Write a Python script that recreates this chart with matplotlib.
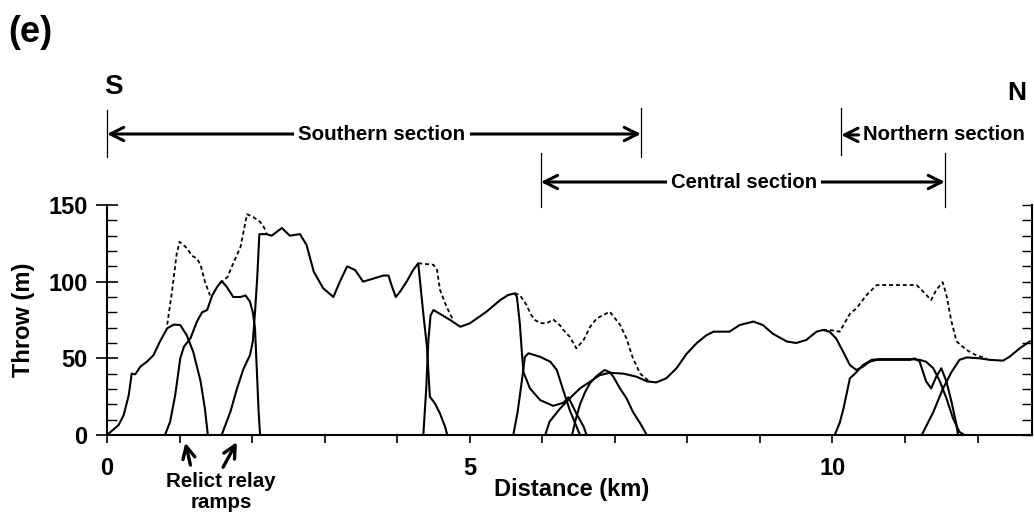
import matplotlib
matplotlib.use("Agg")
import matplotlib.pyplot as plt
from matplotlib.ticker import MultipleLocator

plt.rcParams["font.family"] = ["Liberation Sans", "DejaVu Sans"]
plt.rcParams["font.weight"] = "bold"
plt.rcParams["axes.labelweight"] = "bold"

# Throw profiles of the individual fault segments (km, m)
seg_a_x = [0, 0.16, 0.23, 0.30, 0.34, 0.39, 0.46, 0.55, 0.64, 0.73, 0.83, 0.92, 1.01, 1.10, 1.19, 1.29, 1.35, 1.39]
seg_a_y = [0, 6.5, 13, 26, 40, 39.6, 44.6, 47.8, 52, 61, 69.6, 72, 71.7, 65, 54, 35, 17, 0]

seg_b_x = [0.80, 0.87, 0.94, 1.01, 1.06, 1.15, 1.24, 1.31, 1.38, 1.45, 1.52, 1.58, 1.65, 1.74, 1.84, 1.91, 1.97, 2.01, 2.04, 2.07, 2.09, 2.11]
seg_b_y = [0, 8.7, 26, 50, 57.6, 63, 74, 80, 81.5, 91, 96.7, 100.4, 96.7, 90, 90, 91, 87, 80, 69.6, 37, 15, 0]

seg_c_x = [1.58, 1.70, 1.79, 1.88, 1.97, 2.01, 2.04, 2.07, 2.10, 2.20, 2.27, 2.41, 2.52, 2.66, 2.75, 2.85, 2.98, 3.12,
           3.21, 3.31, 3.42, 3.53, 3.67, 3.81, 3.88, 3.92, 3.98, 4.04, 4.13, 4.22, 4.29, 4.36, 4.41, 4.45, 4.52, 4.59, 4.66, 4.69]
seg_c_y = [0, 15, 30, 43, 52, 61, 80, 102, 131, 131, 130, 135, 130, 131, 124, 106.5, 95.7, 90,
           100, 110, 107.6, 100, 102, 104, 104, 98, 90, 93.5, 100, 107.6, 112, 79, 57.6, 25, 20.6, 14, 5.4, 0]

seg_d_x = [4.36, 4.40, 4.43, 4.46, 4.50, 4.59, 4.73, 4.87, 5.00, 5.23, 5.42, 5.53, 5.62, 5.65, 5.69, 5.72, 5.74, 5.83,
           5.97, 6.15, 6.29, 6.36, 6.47, 6.57, 6.61]
seg_d_y = [0, 30, 62, 78, 81.5, 79, 75, 70.6, 72.8, 80.4, 88, 91.3, 92.4, 90, 72.8, 53, 41, 30.4,
           22.8, 19, 21, 24.6, 14, 5.4, 0]

seg_e_x = [5.60, 5.66, 5.72, 5.76, 5.81, 5.97, 6.11, 6.20, 6.29, 6.38, 6.52]
seg_e_y = [0, 15, 36, 51, 53.3, 51, 47.8, 42.4, 29, 16, 0]

seg_f_x = [6.04, 6.10, 6.24, 6.38, 6.52, 6.66, 6.79, 6.93, 7.12, 7.30, 7.44, 7.57, 7.71, 7.85, 7.99, 8.13, 8.26, 8.36,
           8.58, 8.72, 8.91, 9.04, 9.18, 9.37, 9.50, 9.64, 9.78, 9.87, 9.96, 10.05, 10.15, 10.24, 10.33, 10.42, 10.51,
           10.61, 11.07, 11.13, 11.20, 11.29, 11.36, 11.43, 11.50, 11.57, 11.64, 11.71, 11.73]
seg_f_y = [0, 8.7, 17, 24, 30.4, 34.8, 39, 40.6, 40, 38, 35, 34.3, 37, 43.5, 53, 60, 65, 67.4,
           67.4, 71.7, 74, 71.7, 66, 61, 60, 62, 67.4, 68.5, 67.4, 63, 54, 45.6, 42.4, 44.6, 47.8,
           49, 49, 50, 48, 35, 30.4, 38, 43.5, 35, 21.7, 6.5, 0]

seg_g_x = [6.41, 6.46, 6.52, 6.59, 6.66, 6.75, 6.86, 6.93, 6.98, 7.07, 7.16, 7.25, 7.35, 7.44]
seg_g_y = [0, 10, 20, 28, 34, 38.5, 42.4, 41, 38, 30.4, 24, 15, 7.6, 0]

seg_i_x = [10.03, 10.10, 10.15, 10.20, 10.24, 10.31, 10.42, 10.54, 10.65, 11.07, 11.20, 11.29, 11.39, 11.48, 11.57, 11.66, 11.75, 11.82]
seg_i_y = [0, 8, 17, 28, 37, 40, 45.6, 49, 49.5, 49.5, 49, 47.8, 43.5, 35, 24, 11, 2, 0]

seg_j_x = [11.23, 11.39, 11.52, 11.64, 11.75, 11.85, 12.03, 12.17, 12.35, 12.44, 12.58, 12.72]
seg_j_y = [0, 15, 30, 41, 49, 50.6, 50, 49, 48.5, 51, 56.5, 61]

segments = [(seg_a_x, seg_a_y), (seg_b_x, seg_b_y), (seg_c_x, seg_c_y), (seg_d_x, seg_d_y), (seg_e_x, seg_e_y),
            (seg_f_x, seg_f_y), (seg_g_x, seg_g_y), (seg_i_x, seg_i_y), (seg_j_x, seg_j_y)]

# Summed throw where segments overlap (dashed)
sum1_x = [0.83, 0.90, 0.96, 1.00, 1.10, 1.17, 1.24, 1.29, 1.35, 1.42]
sum1_y = [72, 95, 118, 126, 122, 117, 115, 111, 100, 91]
sum2_x = [1.56, 1.66, 1.75, 1.84, 1.93, 2.02, 2.11, 2.16, 2.20]
sum2_y = [99, 103, 113, 122.6, 144, 142, 139, 135.7, 132]
sum3_x = [4.29, 4.50, 4.55, 4.59, 4.68, 4.77]
sum3_y = [112, 111, 107.6, 94.6, 83.7, 75]
sum4_x = [5.62, 5.69, 5.78, 5.85, 5.90, 5.97, 6.06, 6.15, 6.24, 6.29, 6.38, 6.47, 6.57, 6.66, 6.75, 6.93,
          7.02, 7.07, 7.16, 7.25, 7.35, 7.46]
sum4_y = [92.4, 91.3, 85, 78, 75, 73, 72.8, 75.4, 71.7, 68.5, 64, 56.5, 62, 70.6, 76, 80.4,
          75, 72, 63, 50, 40, 35.5]
sum5_x = [9.87, 9.96, 10.10, 10.24, 10.33, 10.47, 10.61, 11.16, 11.25, 11.36, 11.43, 11.52, 11.57, 11.64,
          11.71, 11.85, 11.98, 12.12]
sum5_y = [68.5, 68.5, 67.4, 79, 82.6, 91.3, 97.8, 97.8, 93.5, 88, 94.6, 99.6, 91.3, 74,
          61, 55.4, 52, 50]
sums = [(sum1_x, sum1_y), (sum2_x, sum2_y), (sum3_x, sum3_y), (sum4_x, sum4_y), (sum5_x, sum5_y)]

xtick_pos = list(range(13))
xtick_labels = ["0", "", "", "", "", "5", "", "", "", "", "10", "", ""]

fig = plt.figure(figsize=(10.34, 5.18), dpi=100)
ax = fig.add_axes([107 / 1034, 1 - 435 / 518, 925 / 1034, 230 / 518])

for sx, sy in segments:
    ax.plot(sx, sy, color="black", lw=1.5, solid_joinstyle="round")
for sx, sy in sums:
    ax.plot(sx, sy, color="black", lw=1.3, dashes=(2.2, 1.6))

ax.set_xlim(0, 12.75)
ax.set_ylim(0, 150)

ax.spines["top"].set_visible(False)
for side in ["left", "bottom", "right"]:
    ax.spines[side].set_linewidth(1.5)

ax.set_xticks(xtick_pos)
ax.set_xticklabels(xtick_labels)
ax.yaxis.set_major_locator(MultipleLocator(50))
ax.yaxis.set_minor_locator(MultipleLocator(10))
ax.tick_params(axis="x", direction="out", length=6, width=1.2, pad=10, labelsize=17)
ax.tick_params(axis="y", which="major", direction="inout", length=16, width=1.2, pad=6, labelsize=17)
ax.tick_params(axis="y", which="minor", direction="in", length=7, width=1.0)

# right-hand axis: inward ticks only
ax2 = ax.twinx()
ax2.set_ylim(0, 150)
ax2.yaxis.set_major_locator(MultipleLocator(10))
ax2.tick_params(axis="y", direction="in", length=7, width=1.0, labelright=False)
for side in ["top", "left", "bottom", "right"]:
    ax2.spines[side].set_visible(False)

ax.set_xlabel("Distance (km)", fontsize=17, fontweight="bold", va="center")
ax.xaxis.set_label_coords(0.502, -0.239)
ax.set_ylabel("Throw (m)", fontsize=17, fontweight="bold", va="center")
ax.yaxis.set_label_coords(-0.0905, 0.5)

# section brackets above the plot
lk = dict(color="black", lw=0.9, clip_on=False)
ax.plot([0, 0], [181, 212], **lk)
ax.plot([7.36, 7.36], [181, 213], **lk)
ax.plot([5.98, 5.98], [149, 184], **lk)
ax.plot([11.55, 11.55], [149, 184], **lk)
ax.plot([10.12, 10.12], [182.6, 213], **lk)

ak = dict(arrowstyle="<->", lw=2.2, color="black", shrinkA=0, shrinkB=0, mutation_scale=24)
ax.annotate("", xy=(0, 196.3), xytext=(7.36, 196.3), arrowprops=ak, annotation_clip=False)
ax.annotate("", xy=(5.98, 165), xytext=(11.55, 165), arrowprops=ak, annotation_clip=False)
ax.annotate("", xy=(10.12, 195.7), xytext=(10.36, 195.7),
            arrowprops=dict(arrowstyle="->", lw=2.2, color="black", shrinkA=0, shrinkB=0, mutation_scale=24),
            annotation_clip=False)

wb = dict(facecolor="white", edgecolor="none", pad=3)
ax.text(3.79, 196.3, "Southern section", fontsize=14.8, ha="center", va="center", bbox=wb, clip_on=False)
ax.text(8.78, 165, "Central section", fontsize=14.6, ha="center", va="center", bbox=wb, clip_on=False)
ax.text(10.42, 195.7, "Northern section", fontsize=14.6, ha="left", va="center", clip_on=False)

ax.text(0.09, 227, "S", fontsize=20, ha="center", va="center", clip_on=False)
ax.text(12.54, 223, "N", fontsize=19, ha="center", va="center", clip_on=False)
fig.text(30 / 1034, 1 - 32 / 518, "(e)", fontsize=26, ha="center", va="center")

# relict relay ramps
rk = dict(arrowstyle="->", lw=2.4, color="black", shrinkA=0, shrinkB=0, mutation_scale=22)
ax.annotate("", xy=(1.08, -5.0), xytext=(1.15, -19.6), arrowprops=rk, annotation_clip=False)
ax.annotate("", xy=(1.79, -4.6), xytext=(1.60, -21), arrowprops=rk, annotation_clip=False)
ax.text(1.57, -24, "Relict relay\nramps", fontsize=14.8, ha="center", va="top", linespacing=1.15, clip_on=False)

fig.savefig("out.png", dpi=100)
